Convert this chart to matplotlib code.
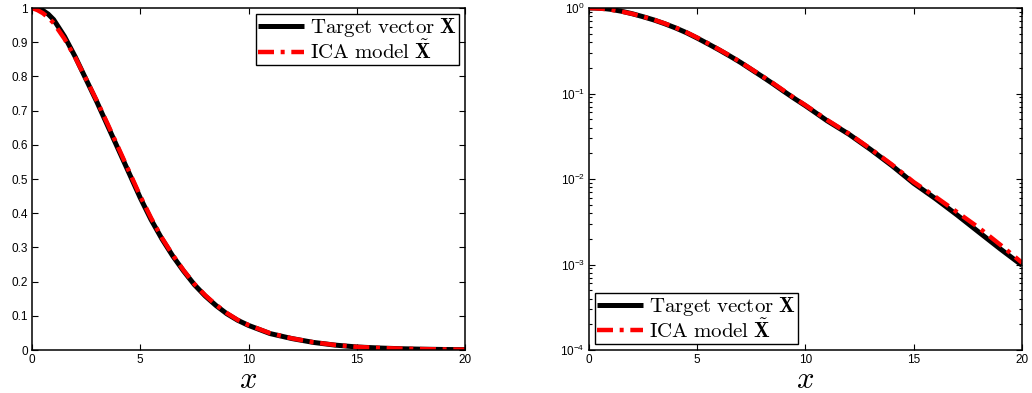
import numpy as np
import matplotlib
matplotlib.use("Agg")
import matplotlib.pyplot as plt
from matplotlib.ticker import FuncFormatter, LogLocator

plt.rcParams['font.family'] = ['Liberation Sans', 'DejaVu Sans']
plt.rcParams['mathtext.fontset'] = 'cm'

# ---- data ----
x_vals = [0, 0.25, 0.5, 0.75, 1, 1.5, 2, 2.5, 3, 3.5, 4, 4.5, 5, 5.5, 6, 6.5, 7, 7.5, 8, 8.5,
          9, 9.5, 10, 11, 12, 13, 14, 15, 16, 17, 18, 19, 20]
target_vals = [1.0, 0.999, 0.993, 0.982, 0.966, 0.917, 0.857, 0.791, 0.725, 0.655, 0.585, 0.515,
               0.445, 0.381, 0.325, 0.275, 0.231, 0.191, 0.158, 0.13, 0.106, 0.087,
               0.072, 0.048, 0.0335, 0.0222, 0.0143, 0.0089, 0.0059, 0.0038,
               0.0024, 0.00152, 0.00098]
ica_vals = [1.0, 0.994, 0.985, 0.972, 0.956, 0.91, 0.855, 0.792, 0.728, 0.66, 0.59, 0.52,
            0.45, 0.386, 0.328, 0.278, 0.233, 0.193, 0.16, 0.132, 0.108, 0.088,
            0.073, 0.049, 0.034, 0.0226, 0.0147, 0.0092, 0.0062, 0.0041,
            0.0027, 0.0017, 0.00105]

label_target = r"$\mathrm{Target\ vector}\ \mathbf{X}$"
label_ica = r"$\mathrm{ICA\ model}\ \tilde{\mathbf{X}}$"

x = np.array(x_vals)
y_t = np.array(target_vals)
y_i = np.array(ica_vals)

fig = plt.figure(figsize=(10.32, 3.93), dpi=100)
ax1 = fig.add_axes([0.031, 0.1094, 0.4196, 0.8702])
ax2 = fig.add_axes([0.5707, 0.1094, 0.4196, 0.8702])

dash = (0, (3.6, 1.5, 0.9, 1.5))

for ax in (ax1, ax2):
    ax.plot(x, y_t, color='black', lw=3.6, solid_capstyle='butt', label=label_target)
    ax.plot(x, y_i, color='red', lw=3.2, linestyle=dash, label=label_ica)
    ax.set_xlim(0, 20)
    ax.set_xticks([0, 5, 10, 15, 20])
    ax.tick_params(which='both', direction='in', top=True, right=True,
                   labelsize=8.5, pad=3, width=0.8)
    ax.tick_params(which='major', length=4.5)
    ax.tick_params(which='minor', length=2.5)
    for s in ax.spines.values():
        s.set_linewidth(1.1)
    ax.set_xlabel(r"$x$", fontsize=22, labelpad=-1)

leg_kw = dict(fontsize=15, frameon=True, fancybox=False, edgecolor='black',
              framealpha=1, borderaxespad=0.3, handlelength=2.2,
              handletextpad=0.3, borderpad=0.1, labelspacing=0.0)

ax1.set_ylim(0, 1)
ax1.set_yticks(np.arange(0, 1.01, 0.1))
ax1.yaxis.set_major_formatter(FuncFormatter(lambda v, p: "%g" % round(v, 2)))
ax1.legend(loc='upper right', **leg_kw)

ax2.set_yscale('log')
ax2.set_ylim(1e-4, 1)
ax2.yaxis.set_major_locator(LogLocator(base=10, numticks=10))
ax2.yaxis.set_minor_locator(LogLocator(base=10, subs=np.arange(2, 10), numticks=10))
ax2.legend(loc='lower left', **leg_kw)

fig.savefig("out.png", dpi=100)
